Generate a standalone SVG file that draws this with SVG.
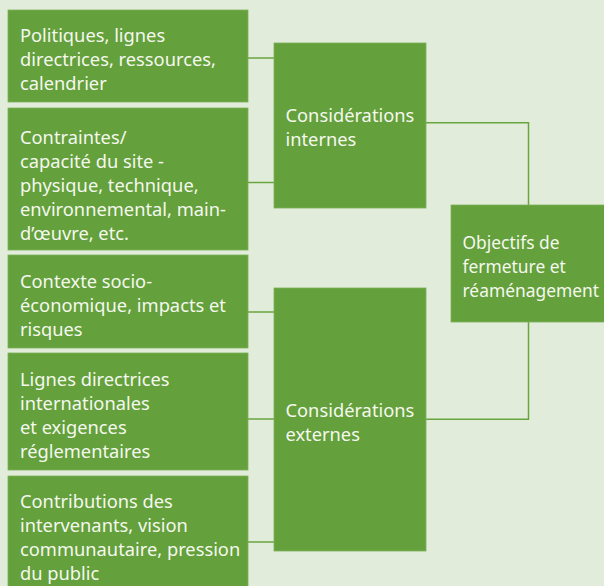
<svg xmlns="http://www.w3.org/2000/svg" width="604" height="586" viewBox="0 0 604 586">
<style>
.bg{fill:#e2ecda}
.box{fill:#64a03b;stroke:#7cb25a;stroke-width:0.8}
.t{font-family:"Noto Sans","Open Sans",sans-serif;font-size:18.3px;fill:#f4f8ef}
.s{font-size:17.4px}
.c{fill:none;stroke:#68a53f;stroke-width:1.5}
</style>
<rect class="bg" x="0" y="0" width="604" height="586"/>
<g id="connectors">
<path class="c" d="M248 58H274"/>
<path class="c" d="M248 182.5H274"/>
<path class="c" d="M248 312H274"/>
<path class="c" d="M248 419H274"/>
<path class="c" d="M248 542H274"/>
<path class="c" d="M426 122.7H528.5V205"/>
<path class="c" d="M426 419.3H528.5V321.5"/>
</g>
<g id="n1">
<rect class="box" x="8" y="10" width="240" height="92"/>
<text class="t"><tspan x="20" y="42">Politiques, lignes</tspan><tspan x="20" y="66">directrices, ressources,</tspan><tspan x="20" y="90">calendrier</tspan></text>
</g>
<g id="n2">
<rect class="box" x="8" y="108" width="240" height="142"/>
<text class="t"><tspan x="20" y="143.5">Contraintes/</tspan><tspan x="20" y="167.5">capacité du site -</tspan><tspan x="20" y="191.5">physique, technique,</tspan><tspan x="20" y="215.5">environnemental, main-</tspan><tspan x="20" y="239.5">d’œuvre, etc.</tspan></text>
</g>
<g id="n3">
<rect class="box" x="8" y="255" width="240" height="93"/>
<text class="t"><tspan x="20" y="287.5">Contexte socio-</tspan><tspan x="20" y="311.5">économique, impacts et</tspan><tspan x="20" y="335.5">risques</tspan></text>
</g>
<g id="n4">
<rect class="box" x="8" y="353" width="240" height="117"/>
<text class="t"><tspan x="20" y="386">Lignes directrices</tspan><tspan x="20" y="410">internationales</tspan><tspan x="20" y="434">et exigences</tspan><tspan x="20" y="458">réglementaires</tspan></text>
</g>
<g id="n5">
<rect class="box" x="8" y="476" width="240" height="115"/>
<text class="t"><tspan x="20" y="508">Contributions des</tspan><tspan x="20" y="532">intervenants, vision</tspan><tspan x="20" y="556">communautaire, pression</tspan><tspan x="20" y="580">du public</tspan></text>
</g>
<g id="internes">
<rect class="box" x="274" y="43" width="152" height="165"/>
<text class="t"><tspan x="285.5" y="121.7">Considérations</tspan><tspan x="285.5" y="145.7">internes</tspan></text>
</g>
<g id="externes">
<rect class="box" x="274" y="288" width="152" height="263"/>
<text class="t"><tspan x="285.5" y="417.3">Considérations</tspan><tspan x="285.5" y="441.3">externes</tspan></text>
</g>
<g id="objectifs">
<rect class="box" x="451" y="205" width="160" height="117"/>
<text class="t s"><tspan x="462.5" y="249">Objectifs de</tspan><tspan x="462.5" y="273">fermeture et</tspan><tspan x="462.5" y="297">réaménagement</tspan></text>
</g>
</svg>
